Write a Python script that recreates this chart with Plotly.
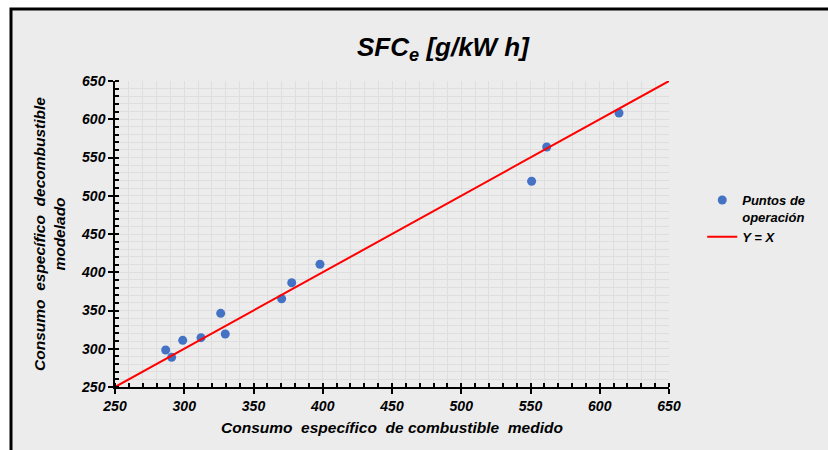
import plotly.graph_objects as go

# Data
medido = [286.6, 290.9, 298.9, 312.1, 326.3, 329.6, 370.3, 377.6, 398.0, 550.8, 561.7, 613.9]
modelado = [298.4, 288.8, 311.0, 314.5, 346.3, 319.3, 365.4, 386.3, 410.4, 518.9, 563.7, 608.2]
linea_yx = [250, 650]
tick_vals = [250, 300, 350, 400, 450, 500, 550, 600, 650]
tick_text = ["<b><i>%d</i></b>" % v for v in tick_vals]

FONT = "Liberation Sans, Arial, sans-serif"

fig = go.Figure()
fig.add_trace(go.Scatter(
    x=medido, y=modelado, mode="markers", name="<b><i>Puntos de<br>operación</i></b>",
    marker=dict(color="#4472c4", size=9),
))
fig.add_trace(go.Scatter(
    x=linea_yx, y=linea_yx, mode="lines", name="<b><i>Y = X</i></b>",
    line=dict(color="#ff0000", width=2),
))

axis_common = dict(
    range=[250, 650], tickmode="array", tickvals=tick_vals, ticktext=tick_text,
    showline=True, linecolor="black", linewidth=1.5,
    ticks="outside", ticklen=5, tickcolor="black", tickwidth=1.5,
    showgrid=True, gridcolor="#dedede", gridwidth=1.3,
    zeroline=False,
    tickfont=dict(family=FONT, size=14, color="black"),
    minor=dict(dtick=10, tick0=250, ticks="inside", ticklen=4, tickcolor="black",
               showgrid=True, gridcolor="#dedede", gridwidth=1.3),
)

fig.update_xaxes(**axis_common,
                 title=dict(text="<b><i>Consumo  específico  de combustible  medido</i></b>",
                            font=dict(family=FONT, size=15.5, color="black"),
                            standoff=10))
fig.update_yaxes(**axis_common,
                 title=dict(text="<b><i>Consumo  específico  decombustible<br>modelado</i></b>",
                            font=dict(family=FONT, size=15.5, color="black"),
                            standoff=12))

fig.update_layout(
    width=828, height=450,
    margin=dict(l=115, r=159, t=81, b=63),
    paper_bgcolor="white", plot_bgcolor="#ececec",
    title=dict(text="<b><i>SFC<sub>e</sub> [g/kW h]</i></b>", x=0.535, xanchor="center", y=0.896, yanchor="middle",
               font=dict(family=FONT, size=26, color="black")),
    legend=dict(x=1.06, y=0.66, xanchor="left", yanchor="top", bgcolor="rgba(0,0,0,0)",
                font=dict(family=FONT, size=13, color="black"), valign="top",
                itemwidth=30, tracegroupgap=12),
    showlegend=True,
    shapes=[dict(type="rect", xref="paper", yref="paper",
                 x0=(11 - 115) / 554, x1=(840 - 115) / 554,
                 y0=(387 - 460) / 306, y1=(387 - 9) / 306,
                 line=dict(color="black", width=3), fillcolor="#ececec", layer="below")],
)

fig.write_html("out.html")
